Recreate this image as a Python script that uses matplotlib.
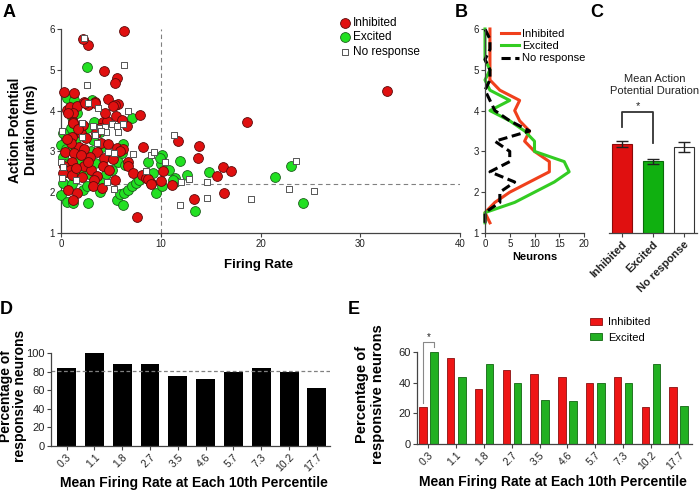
import matplotlib
matplotlib.use('Agg')
import matplotlib.pyplot as plt
import numpy as np

plt.rcParams['font.family'] = ['Liberation Sans', 'DejaVu Sans']

# ---------------- data ----------------
inh_fr = [6.33, 2.73, 2.23, 4.27, 5.63, 5.4, 0.33, 1.3, 2.3, 2.73, 3.4, 4.73, 5.73, 5.4, 0.57, 0.9, 1.57,
          1.17, 7.9, 5.5, 4.23, 4.63, 6.57, 6.07, 1.17, 1.97, 3.9, 1.07, 2.5, 1.8, 0.97, 3.97, 4.73, 5.57,
          6.23, 8.23, 11.7, 13.83, 13.77, 3.57, 2.33, 0.4, 1.3, 1.13, 2.9, 4.3, 5.17, 6.67, 6.73, 0.33, 0.9,
          2.3, 2.97, 4.23, 0.23, 1.07, 2.07, 3.57, 3.33, 5.4, 7.23, 8.17, 8.57, 9.07, 10.07, 10.23, 11.13,
          3.17, 4.13, 0.73, 1.63, 1.23, 7.57, 13.33, 16.3, 15.63, 16.23, 17.0, 18.67, 32.67, 2.23, 1.2, 0.7,
          4.37, 5.2, 2.37, 3.37, 0.6, 1.5, 2.7, 3.5, 2.0, 4.8, 5.9, 1.7, 8.7, 9.0]
inh_ap = [5.96, 5.62, 5.75, 4.97, 4.79, 4.67, 4.45, 4.42, 4.22, 4.14, 4.2, 4.28, 4.16, 4.14, 4.01, 4.1, 4.11,
          3.93, 3.88, 3.87, 3.71, 3.75, 3.62, 3.77, 3.73, 3.45, 3.57, 3.36, 3.34, 3.11, 3.2, 3.2, 3.18, 3.08,
          3.05, 3.12, 3.25, 3.13, 2.85, 2.99, 3.05, 2.99, 2.97, 2.75, 2.87, 2.83, 2.81, 2.75, 2.63, 2.63, 2.54,
          2.63, 2.54, 2.64, 2.46, 2.42, 2.38, 2.4, 2.3, 2.3, 2.46, 2.42, 2.34, 2.23, 2.27, 2.52, 2.18,
          2.15, 2.11, 2.05, 1.99, 1.81, 1.38, 1.83, 1.99, 2.4, 2.61, 2.53, 3.71, 4.48, 3.65, 3.69, 3.93,
          3.93, 4.11, 4.19, 4.19, 3.3, 2.6, 2.75, 3.45, 2.9, 2.55, 3.0, 3.55, 2.33, 2.2]

exc_fr = [2.63, 3.07, 0.57, 1.3, 1.07, 7.07, 1.0, 2.57, 3.33, 0.23, 0.0, 0.23, 1.07, 1.9, 6.17, 6.07, 5.67,
          6.4, 8.73, 10.17, 10.0, 11.9, 9.23, 10.83, 11.4, 12.63, 11.47, 14.83, 21.5, 23.1, 24.23, 13.4, 9.5,
          10.1, 0.0, 0.57, 1.23, 2.67, 2.17, 2.63, 3.9, 5.57, 6.17, 5.9, 6.3, 6.73, 7.07, 7.5, 7.83, 4.23,
          5.07, 0.23, 0.57, 1.3, 1.73, 2.07, 3.4, 4.9, 4.07, 3.17, 3.9, 1.5, 0.5, 1.1, 0.9, 2.8, 4.5, 3.0,
          1.6, 0.3, 8.4, 9.9, 11.2]
exc_ap = [5.08, 4.26, 4.3, 4.26, 3.85, 3.81, 3.57, 3.58, 3.73, 3.44, 3.16, 2.87, 3.07, 2.87, 3.17, 2.95, 2.75,
          2.67, 2.75, 2.9, 2.69, 2.77, 2.48, 2.54, 2.36, 2.42, 2.26, 2.5, 2.38, 2.65, 1.74, 1.55, 1.97,
          2.15, 1.93, 1.77, 1.74, 1.73, 2.05, 2.14, 2.01, 1.82, 1.69, 1.95, 1.97, 2.05, 2.14, 2.23, 2.3, 2.26,
          2.54, 2.22, 2.5, 2.46, 2.79, 2.58, 2.71, 2.91, 3.12, 3.28, 3.48, 3.3, 3.05, 2.2, 2.65, 2.45, 2.45, 3.0,
          3.95, 2.7, 2.4, 2.85, 2.3]

nr_fr = [2.3, 6.3, 2.63, 2.73, 3.7, 6.73, 0.13, 2.07, 3.23, 3.9, 4.4, 5.07, 5.63, 6.23, 4.5, 5.73, 2.07, 3.57,
         4.73, 7.23, 9.07, 9.3, 8.57, 10.47, 11.3, 0.0, 0.1, 1.5, 4.57, 5.3, 12.07, 12.8, 11.9, 14.63, 14.63,
         19.07, 22.83, 23.57, 25.33, 0.2, 4.0, 5.3, 3.4]
nr_ap = [5.77, 5.12, 4.63, 4.18, 4.07, 3.99, 3.51, 3.7, 3.62, 3.57, 3.6, 3.67, 3.62, 3.66, 3.48, 3.48, 3.36, 3.21,
         2.99, 2.93, 2.91, 2.99, 2.53, 2.75, 3.4, 2.75, 2.36, 2.3, 2.26, 2.07, 2.26, 2.32, 1.69, 2.26, 1.87,
         1.84, 2.08, 2.77, 2.04, 2.62, 3.5, 2.95, 3.4]

hist_bins = [1.25, 1.5, 1.75, 2.0, 2.25, 2.5, 2.75, 3.0, 3.25, 3.5, 3.75, 4.0, 4.25, 4.5, 4.75, 5.0, 5.25, 5.5, 5.75, 6.0]
hist_inh = [1, 0, 2, 5, 9, 13, 13, 10, 8, 9, 7, 6, 7, 3, 1, 1, 1, 1, 1, 1]
hist_exc = [0, 0, 6, 10, 14, 17, 16, 10, 10, 8, 5, 1, 5, 1, 0, 1, 0, 0, 0, 0]
hist_nr = [0, 0, 3, 3, 6, 1, 5, 5, 2, 9, 5, 2, 1, 0, 1, 1, 0, 1, 1, 0]

c_groups = ['Inhibited', 'Excited', 'No response']
c_means = [3.18, 2.76, 3.11]
c_sem = [0.08, 0.06, 0.12]

pct_labels = ['0.3', '1.1', '1.8', '2.7', '3.5', '4.6', '5.7', '7.3', '10.2', '17.7']
d_resp = [84, 100, 88, 88, 75, 72, 80, 84, 80, 62]
d_overall = 81
e_inh = [24, 56, 36, 48, 46, 44, 40, 44, 24, 37.5]
e_exc = [60, 44, 52, 40, 29, 28, 40, 40, 52, 25]

# ---------------- style ----------------
RED = '#e01010'
RED_E = '#5a0a0a'
GRN = '#22e022'
GRN_E = '#1d5e1d'
SPINE = '#444444'
W, H = 700, 492


def rect(l, r, b, t):
    return [l / W, 1 - b / H, (r - l) / W, (b - t) / H]


def style(ax, labelsize=7):
    for s in ['top', 'right']:
        ax.spines[s].set_visible(False)
    for s in ['left', 'bottom']:
        ax.spines[s].set_color(SPINE)
        ax.spines[s].set_linewidth(0.9)
    ax.tick_params(direction='out', length=3, width=0.8, colors=SPINE, labelsize=labelsize,
                   labelcolor='#222222', pad=1.5)


fig = plt.figure(figsize=(7, 4.92), dpi=100)

# ---------------- A ----------------
axA = fig.add_axes(rect(61, 460, 233, 29))
style(axA)
axA.axvline(10, color='#808080', lw=0.8, ls=(0, (4, 3)), zorder=1)
axA.axhline(2.2, color='#808080', lw=0.8, ls=(0, (4, 3)), zorder=1)
hE = axA.scatter(exc_fr, exc_ap, s=50, c=GRN, edgecolors=GRN_E, linewidths=0.6, zorder=3, clip_on=False,
                 label='Excited')
hI = axA.scatter(inh_fr, inh_ap, s=50, c=RED, edgecolors=RED_E, linewidths=0.6, zorder=4, clip_on=False,
                 label='Inhibited')
hN = axA.scatter(nr_fr, nr_ap, s=16, marker='s', c='white', edgecolors='#555555', linewidths=0.7, zorder=5,
                 clip_on=False, label='No response')
axA.set_xlim(0, 40)
axA.set_ylim(1, 6)
axA.set_xticks([0, 10, 20, 30, 40])
axA.set_yticks([1, 2, 3, 4, 5, 6])
axA.legend(handles=[hI, hE, hN], loc='upper left', bbox_to_anchor=((338 - 61) / 399, (233 - 17) / 204),
           frameon=False, fontsize=8.5, handletextpad=0.1, labelspacing=0.2, borderpad=0, borderaxespad=0,
           handlelength=1.2)
fig.text(23 / W, 1 - 130 / H, 'Action Potential\nDuration (ms)', rotation=90, ha='center', va='center',
         fontsize=10, fontweight='bold', multialignment='center', linespacing=1.1)
fig.text(259 / W, 1 - 265 / H, 'Firing Rate', ha='center', va='center', fontsize=9.5, fontweight='bold')

# ---------------- B ----------------
axB = fig.add_axes(rect(485, 584, 233, 29))
style(axB)
lI, = axB.plot(hist_inh, hist_bins, color='#f0401c', lw=2.2, label='Inhibited', clip_on=False)
lE, = axB.plot(hist_exc, hist_bins, color='#33cc22', lw=2.2, label='Excited', clip_on=False)
lN, = axB.plot(hist_nr, hist_bins, color='black', lw=2.2, ls=(0, (3, 1.5)), label='No response', clip_on=False)
axB.set_xlim(0, 20)
axB.set_ylim(1, 6)
axB.set_xticks([0, 5, 10, 15, 20])
axB.set_yticks([1, 2, 3, 4, 5, 6])
axB.legend(handles=[lI, lE, lN], loc='upper left', bbox_to_anchor=((501 - 485) / 99, (233 - 29) / 204),
           frameon=False, fontsize=8, handletextpad=0.3, labelspacing=0.2, borderpad=0, borderaxespad=0,
           handlelength=1.6)
fig.text(535 / W, 1 - 257 / H, 'Neurons', ha='center', va='center', fontsize=8, fontweight='bold')

# ---------------- C ----------------
axC = fig.add_axes(rect(609, 697, 233, 29))
style(axC)
axC.spines['left'].set_visible(False)
xc = np.arange(len(c_groups))
axC.bar(xc, c_means, width=0.67, color=[RED, '#10b010', 'white'], edgecolor=['#8a0a0a', '#0b6a0b', '#333333'],
        linewidth=0.8)
axC.errorbar(xc, c_means, yerr=c_sem, fmt='none', ecolor='#222222', elinewidth=1, capsize=4, capthick=1)
axC.plot([0, 0, 1, 1], [3.6, 3.97, 3.97, 3.2], color='#333333', lw=1.3)
axC.text(0.5, 3.99, '*', ha='center', va='bottom', fontsize=8, color='#222222')
axC.set_xlim(-0.42, 2.42)
axC.set_ylim(1, 6)
axC.set_yticks([])
axC.set_xticks(xc)
axC.set_xticklabels(c_groups, rotation=45, ha='right', rotation_mode='anchor', fontsize=8, fontweight='bold')
fig.text(655 / W, 1 - 85 / H, 'Mean Action\nPotential Duration', ha='center', va='center', fontsize=8,
         multialignment='center', linespacing=1.3, color='#222222')

# ---------------- D ----------------
axD = fig.add_axes(rect(51, 330, 446, 353))
style(axD, labelsize=8)
xd = np.arange(len(pct_labels))
axD.bar(xd, d_resp, width=0.68, color='black')
axD.axhline(d_overall, color='#808080', lw=0.9, ls=(0, (3, 2)))
axD.set_xlim(-0.56, 9.47)
axD.set_ylim(0, 100)
axD.set_yticks([0, 20, 40, 60, 80, 100])
axD.set_xticks(xd)
axD.set_xticklabels(pct_labels, rotation=45, ha='right', rotation_mode='anchor', fontsize=7.5)
fig.text(13 / W, 1 - 396 / H, 'Percentage of\nresponsive neurons', rotation=90, ha='center', va='center',
         fontsize=10, fontweight='bold', multialignment='center', linespacing=1.05)
fig.text(194 / W, 1 - 483 / H, 'Mean Firing Rate at Each 10th Percentile', ha='center', va='center',
         fontsize=10, fontweight='bold')

# ---------------- E ----------------
axE = fig.add_axes(rect(417, 692, 444, 321.4))
style(axE, labelsize=8)
axE.spines['left'].set_bounds(0, 60)
xe = np.arange(len(pct_labels))
bI = axE.bar(xe - 0.2, e_inh, width=0.27, color='#ee1515', edgecolor='#8a1010', linewidth=0.6, label='Inhibited')
bE = axE.bar(xe + 0.2, e_exc, width=0.27, color='#22b022', edgecolor='#116611', linewidth=0.6, label='Excited')
axE.plot([-0.2, -0.2, 0.2, 0.2], [27, 66.5, 66.5, 63], color='#888888', lw=0.8)
axE.text(0, 66.5, '*', ha='center', va='bottom', fontsize=7, color='#222222')
axE.set_xlim(-0.41, 9.48)
axE.set_ylim(0, 80)
axE.set_yticks([0, 20, 40, 60])
axE.set_xticks(xe)
axE.set_xticklabels(pct_labels, rotation=45, ha='right', rotation_mode='anchor', fontsize=7.5)
axE.legend(handles=[bI, bE], loc='upper left', bbox_to_anchor=((590 - 417) / 275, (444 - 317) / 122.6),
           frameon=False, fontsize=8, handletextpad=0.5, labelspacing=0.5, borderpad=0, borderaxespad=0,
           handlelength=1.1, handleheight=0.6)
fig.text(370 / W, 1 - 394 / H, 'Percentage of\nresponsive neurons', rotation=90, ha='center', va='center',
         fontsize=10.5, fontweight='bold', multialignment='center', linespacing=1.1)
fig.text(553 / W, 1 - 482 / H, 'Mean Firing Rate at Each 10th Percentile', ha='center', va='center',
         fontsize=10, fontweight='bold')

# ---------------- panel letters ----------------
for lab, x, y in [('A', 3, 4), ('B', 455, 4), ('C', 590, 4), ('D', 0, 301), ('E', 348, 301)]:
    fig.text(x / W, 1 - y / H, lab, ha='left', va='top', fontsize=13, fontweight='bold')

fig.savefig('out.png', dpi=100)
